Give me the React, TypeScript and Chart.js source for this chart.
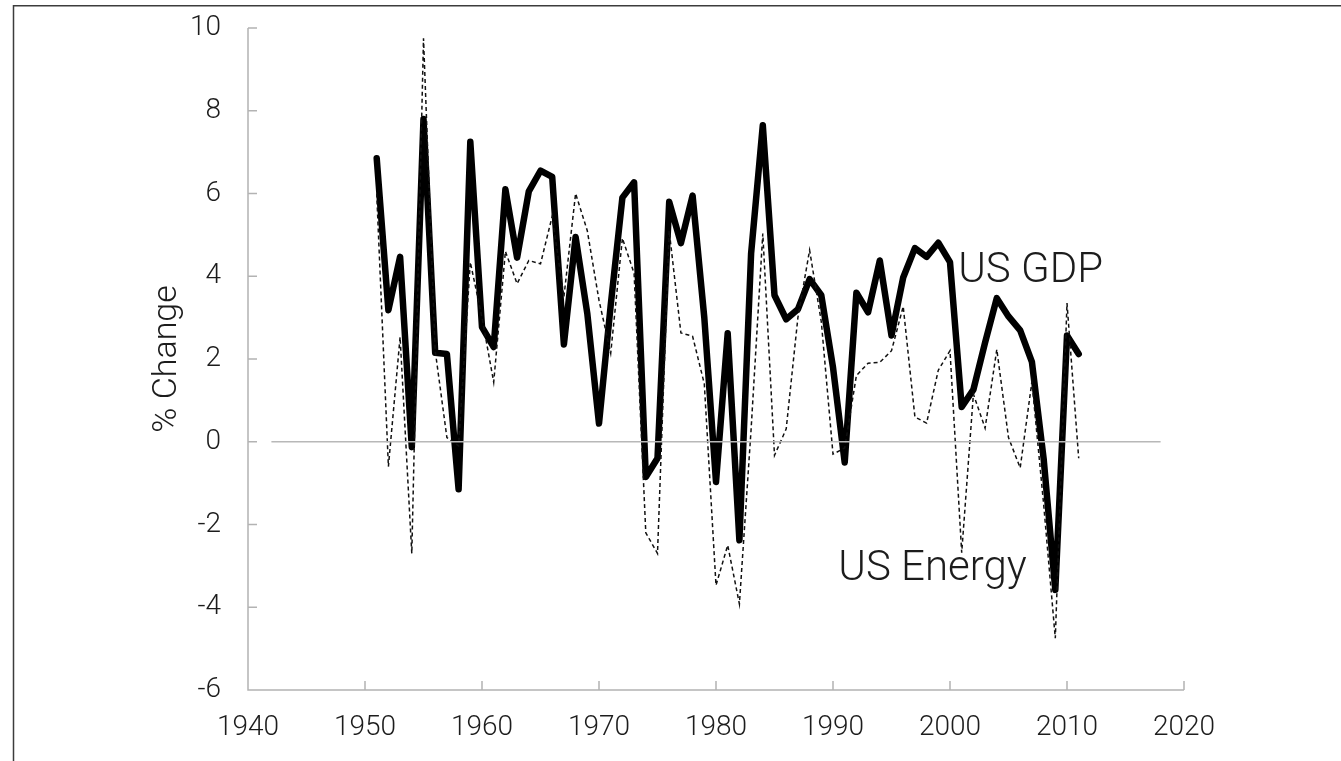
import { useEffect, useRef } from "react";
import { Chart, registerables } from "chart.js";

Chart.register(...registerables);

// ---- data ----
const years = [
  1951, 1952, 1953, 1954, 1955, 1956, 1957, 1958, 1959, 1960,
  1961, 1962, 1963, 1964, 1965, 1966, 1967, 1968, 1969, 1970,
  1971, 1972, 1973, 1974, 1975, 1976, 1977, 1978, 1979, 1980,
  1981, 1982, 1983, 1984, 1985, 1986, 1987, 1988, 1989, 1990,
  1991, 1992, 1993, 1994, 1995, 1996, 1997, 1998, 1999, 2000,
  2001, 2002, 2003, 2004, 2005, 2006, 2007, 2008, 2009, 2010,
  2011,
];

const gdpGrowth = [
  6.85, 3.18, 4.47, -0.13, 7.8, 2.15, 2.12, -1.15, 7.25, 2.77,
  2.29, 6.1, 4.45, 6.05, 6.55, 6.4, 2.35, 4.95, 3.1, 0.44,
  3.3, 5.9, 6.27, -0.85, -0.4, 5.8, 4.8, 5.95, 3.0, -0.97,
  2.62, -2.38, 4.55, 7.65, 3.54, 2.96, 3.2, 3.93, 3.54, 1.8,
  -0.5, 3.6, 3.13, 4.38, 2.57, 3.97, 4.68, 4.47, 4.81, 4.34,
  0.84, 1.26, 2.4, 3.47, 3.03, 2.69, 1.93, -0.4, -3.58, 2.57,
  2.12,
];

const energyGrowth = [
  6.0, -0.6, 2.53, -2.7, 9.75, 2.2, 0.1, -0.1, 4.34, 3.0,
  1.44, 4.6, 3.82, 4.38, 4.3, 5.45, 3.5, 6.0, 5.1, 3.42,
  2.14, 4.92, 4.07, -2.2, -2.7, 5.1, 2.63, 2.55, 1.4, -3.47,
  -2.5, -3.92, 0.3, 5.03, -0.33, 0.31, 3.0, 4.63, 2.9, -0.3,
  -0.15, 1.6, 1.9, 1.92, 2.2, 3.27, 0.6, 0.45, 1.73, 2.2,
  -2.68, 1.15, 0.33, 2.23, 0.1, -0.63, 1.45, -1.5, -4.75, 3.35,
  -0.4,
];

const zeroLineYears = [1942, 2018];
const zeroLineValues = [0, 0];

const xTickValues = [1940, 1950, 1960, 1970, 1980, 1990, 2000, 2010, 2020];
const yTickValues = [-6, -4, -2, 0, 2, 4, 6, 8, 10];

const yAxisTitle = "% Change";
const gdpLabel = "US GDP";
const energyLabel = "US Energy";
// label anchor points, in data units (left edge / baseline)
const gdpLabelAt = { x: 2000.7, y: 3.86 };
const energyLabelAt = { x: 1990.45, y: -3.35 };

const FONT = "Roboto, 'Liberation Sans', Arial, sans-serif";
const WEIGHT = 300;
const TEXT = "#1c1c1c";
const AXIS = "#b3b3b3";

export default function App() {
  const canvasRef = useRef<HTMLCanvasElement | null>(null);

  useEffect(() => {
    const canvas = canvasRef.current;
    if (!canvas) return;

    const framePlugin = {
      id: "frame",
      beforeDraw(chart: any) {
        const { ctx } = chart;
        ctx.save();
        ctx.fillStyle = "#ffffff";
        ctx.fillRect(0, 0, chart.width, chart.height);
        ctx.strokeStyle = "#3c3c3c";
        ctx.lineWidth = 1.5;
        ctx.beginPath();
        ctx.moveTo(13.5, chart.height + 5);
        ctx.lineTo(13.5, 5.75);
        ctx.lineTo(chart.width + 5, 5.75);
        ctx.stroke();
        ctx.restore();
      },
    };

    const axesPlugin = {
      id: "customAxes",
      beforeDatasetsDraw(chart: any) {
        const { ctx } = chart;
        const xs = chart.scales.x;
        const ys = chart.scales.y;
        const x0 = xs.getPixelForValue(xTickValues[0]);
        const x1 = xs.getPixelForValue(xTickValues[xTickValues.length - 1]);
        const y0 = ys.getPixelForValue(yTickValues[0]);
        const y1 = ys.getPixelForValue(yTickValues[yTickValues.length - 1]);
        ctx.save();
        ctx.strokeStyle = AXIS;
        ctx.lineWidth = 1.5;
        ctx.beginPath();
        ctx.moveTo(x0, y1);
        ctx.lineTo(x0, y0);
        ctx.lineTo(x1, y0);
        for (const v of yTickValues) {
          const p = ys.getPixelForValue(v);
          ctx.moveTo(x0, p);
          ctx.lineTo(x0 + 9, p);
        }
        for (const v of xTickValues) {
          const p = xs.getPixelForValue(v);
          ctx.moveTo(p, y0);
          ctx.lineTo(p, y0 - 9);
        }
        ctx.stroke();

        // y-axis title
        ctx.fillStyle = TEXT;
        ctx.font = `${WEIGHT} 34px ${FONT}`;
        ctx.textAlign = "center";
        ctx.textBaseline = "middle";
        ctx.translate(167, (y0 + y1) / 2);
        ctx.rotate(-Math.PI / 2);
        ctx.fillText(yAxisTitle, 0, 0);
        ctx.restore();
      },
      afterDatasetsDraw(chart: any) {
        const { ctx } = chart;
        const xs = chart.scales.x;
        const ys = chart.scales.y;
        ctx.save();
        ctx.fillStyle = TEXT;
        ctx.font = `${WEIGHT} 42px ${FONT}`;
        ctx.textAlign = "left";
        ctx.textBaseline = "alphabetic";
        ctx.fillText(
          gdpLabel,
          xs.getPixelForValue(gdpLabelAt.x),
          ys.getPixelForValue(gdpLabelAt.y)
        );
        ctx.fillText(
          energyLabel,
          xs.getPixelForValue(energyLabelAt.x),
          ys.getPixelForValue(energyLabelAt.y)
        );
        ctx.restore();
      },
    };

    const chart = new Chart(canvas, {
      type: "line",
      data: {
        datasets: [
          {
            label: "zero",
            data: zeroLineYears.map((x, i) => ({ x, y: zeroLineValues[i] })),
            borderColor: "#b8b8b8",
            borderWidth: 1.5,
            pointRadius: 0,
            tension: 0,
          },
          {
            label: energyLabel,
            data: years.map((x, i) => ({ x, y: energyGrowth[i] })),
            borderColor: "#111111",
            borderWidth: 1.5,
            borderDash: [4, 3],
            pointRadius: 0,
            tension: 0,
          },
          {
            label: gdpLabel,
            data: years.map((x, i) => ({ x, y: gdpGrowth[i] })),
            borderColor: "#000000",
            borderWidth: 6.5,
            borderJoinStyle: "round",
            borderCapStyle: "round",
            pointRadius: 0,
            tension: 0,
          },
        ],
      },
      options: {
        responsive: false,
        animation: false,
        devicePixelRatio: 1,
        layout: { padding: { top: 28, right: 157, left: 0, bottom: 0 } },
        plugins: {
          legend: { display: false },
          tooltip: { enabled: false },
          title: { display: false },
        },
        events: [],
        scales: {
          x: {
            type: "linear",
            min: xTickValues[0],
            max: xTickValues[xTickValues.length - 1],
            grid: { display: false, drawTicks: false },
            border: { display: false },
            afterBuildTicks: (s: any) => {
              s.ticks = xTickValues.map((v) => ({ value: v }));
            },
            afterFit: (s: any) => {
              s.height = 71;
              s.paddingLeft = 0;
              s.paddingRight = 0;
            },
            ticks: {
              autoSkip: false,
              maxRotation: 0,
              padding: 21,
              color: TEXT,
              font: { family: FONT, size: 28, weight: WEIGHT },
              callback: (v: any) => String(v),
            },
          },
          y: {
            type: "linear",
            min: yTickValues[0],
            max: yTickValues[yTickValues.length - 1],
            grid: { display: false, drawTicks: false },
            border: { display: false },
            afterBuildTicks: (s: any) => {
              s.ticks = yTickValues.map((v) => ({ value: v }));
            },
            afterFit: (s: any) => {
              s.width = 248;
              s.paddingTop = 0;
              s.paddingBottom = 0;
            },
            ticks: {
              autoSkip: false,
              padding: 27,
              color: TEXT,
              font: { family: FONT, size: 28, weight: WEIGHT },
              callback: (v: any) => String(v),
            },
          },
        },
      },
      plugins: [framePlugin, axesPlugin],
    });

    return () => chart.destroy();
  }, []);

  return (
    <div
      style={{
        position: "absolute",
        left: 0,
        top: 0,
        width: 1341,
        height: 761,
        background: "#fff",
        overflow: "hidden",
      }}
    >
      <canvas
        ref={canvasRef}
        width={1341}
        height={761}
        style={{ display: "block", width: 1341, height: 761 }}
      />
    </div>
  );
}
